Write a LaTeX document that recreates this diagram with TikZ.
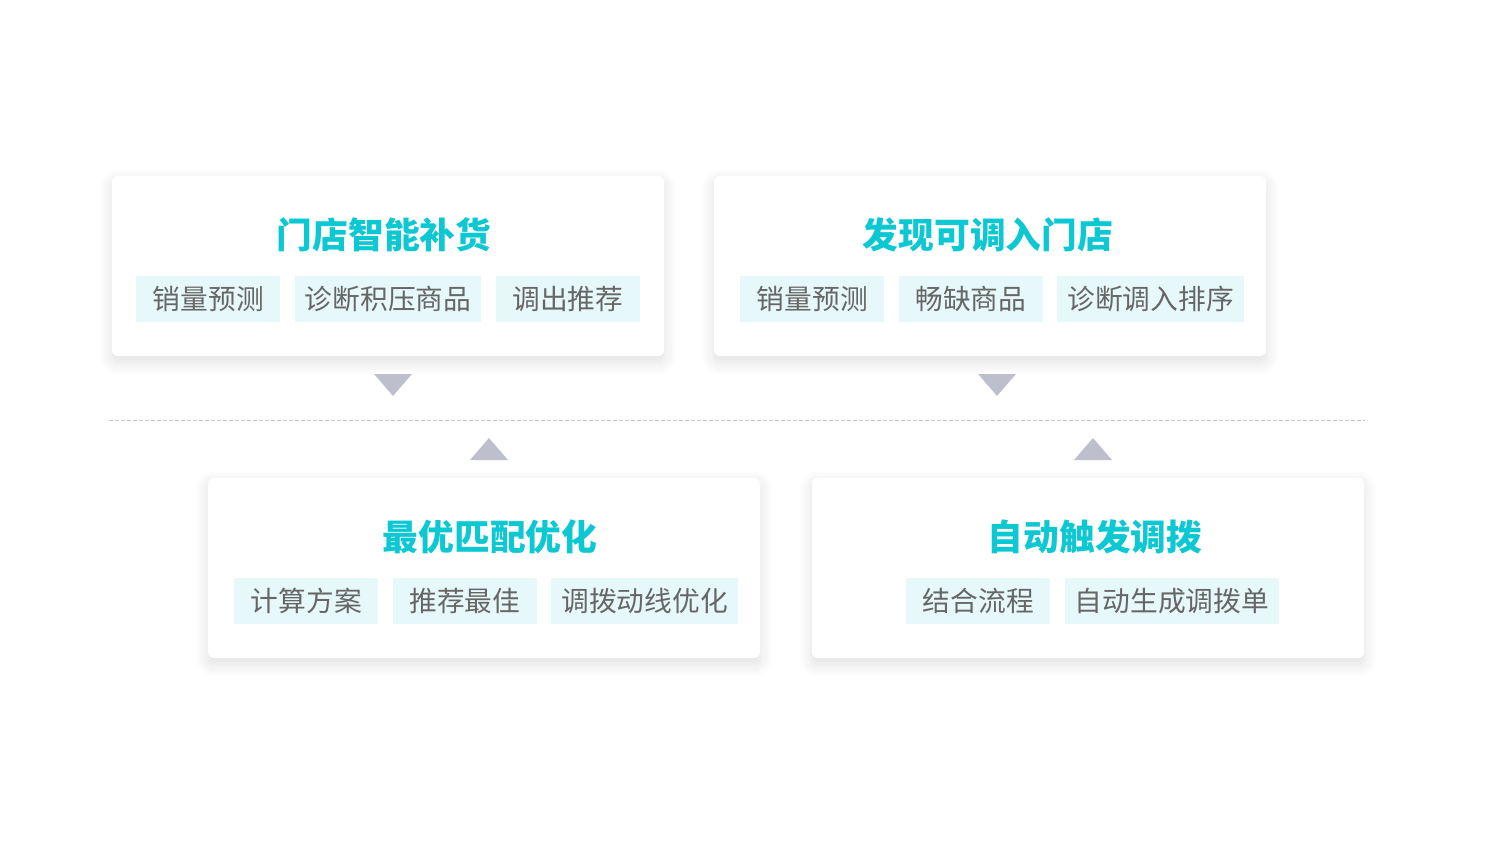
\documentclass[tikz,border=0pt]{standalone}
\usepackage{fontspec}
\setmainfont{Noto Sans CJK SC}
\usetikzlibrary{positioning, shadows.blur}

\definecolor{titlecyan}{HTML}{0CC8D2}
\definecolor{tagbg}{HTML}{E6F8FA}
\definecolor{taggray}{HTML}{666666}
\definecolor{markgray}{HTML}{BEBFCC}
\definecolor{linegray}{HTML}{C6C6CE}

\begin{document}
\begin{tikzpicture}[
    x=0.75pt, y=0.75pt,
    node distance=10.5pt,
    card/.style={fill=white, rounded corners=4.5pt, minimum width=414pt, minimum height=135pt, inner sep=0pt,
        blur shadow={shadow xshift=0pt, shadow yshift=-4.5pt, shadow blur radius=10pt, shadow blur steps=14, shadow opacity=13}},
    title/.style={text=titlecyan, font=\bfseries\fontsize{26.8pt}{30pt}\selectfont, inner sep=0pt},
    tag/.style={fill=tagbg, text=taggray, font=\fontsize{20.8pt}{24pt}\selectfont, minimum width=108pt, minimum height=34.5pt, inner xsep=7.5pt, inner ysep=0pt},
    marker/.style={fill=markgray},
    divider/.style={draw=linegray, line width=0.75pt, dash pattern=on 3pt off 1.5pt}
]
\useasboundingbox (0,0) rectangle (1490,-840);

% Cards
\node[card] (A) at (388,-266) {};
\node[card] (B) at (990,-266) {};
\node[card] (C) at (484,-568) {};
\node[card] (D) at (1088,-568) {};

% Titles
\node[title] (A title) at (384,-235) {门店智能补货};
\node[title] (B title) at (988,-235) {发现可调入门店};
\node[title] (C title) at (490,-537) {最优匹配优化};
\node[title] (D title) at (1095,-537) {自动触发调拨};

% Tags of A
\node[tag, anchor=west] (A1) at (136,-299) {销量预测};
\node[tag, right=of A1] (A2) {诊断积压商品};
\node[tag, right=of A2] (A3) {调出推荐};

% Tags of B
\node[tag, anchor=west] (B1) at (740,-299) {销量预测};
\node[tag, right=of B1] (B2) {畅缺商品};
\node[tag, right=of B2] (B3) {诊断调入排序};

% Tags of C
\node[tag, anchor=west] (C1) at (234,-601) {计算方案};
\node[tag, right=of C1] (C2) {推荐最佳};
\node[tag, right=of C2] (C3) {调拨动线优化};

% Tags of D
\node[tag, anchor=west] (D1) at (906,-601) {结合流程};
\node[tag, right=of D1] (D2) {自动生成调拨单};

% Divider
\draw[divider] (109,-420) -- (1365,-420);

% Markers
\fill[marker] (374,-374) -- (412,-374) -- (393,-396) -- cycle;
\fill[marker] (978,-374) -- (1016,-374) -- (997,-396) -- cycle;
\fill[marker] (470,-460) -- (508,-460) -- (489,-438) -- cycle;
\fill[marker] (1074,-460) -- (1112,-460) -- (1093,-438) -- cycle;

\end{tikzpicture}
\end{document}
